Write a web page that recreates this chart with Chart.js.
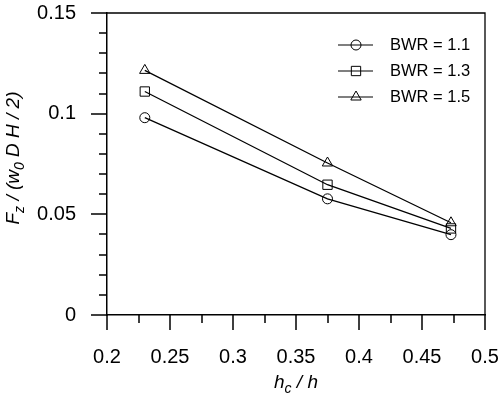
<!DOCTYPE html>
<html>
<head>
<meta charset="utf-8">
<script src="https://cdn.jsdelivr.net/npm/chart.js@4/dist/chart.umd.min.js"></script>
<style>
html,body{margin:0;padding:0;background:#fff;}
canvas{display:block;}
</style>
</head>
<body>
<canvas id="c" width="500" height="398"></canvas>
<script>
// ---- data ----
const xValues = [0.230, 0.375, 0.473];
const bwr11 = [0.098, 0.0577, 0.0399];
const bwr13 = [0.111, 0.0647, 0.0430];
const bwr15 = [0.1215, 0.0755, 0.0458];
const seriesLabels = ['BWR = 1.1', 'BWR = 1.3', 'BWR = 1.5'];
const seriesStyles = ['circle', 'rect', 'triangle'];
const xTickLabels = ['0.2', '0.25', '0.3', '0.35', '0.4', '0.45', '0.5'];
const yTickLabels = ['0', '0.05', '0.1', '0.15'];

const FONT = '"Liberation Sans", Arial, Helvetica, sans-serif';

function pts(ys) { return xValues.map((x, i) => ({x: x, y: ys[i]})); }
const radii = {circle: 5, rect: 6.6, triangle: 6};

const datasets = [bwr11, bwr13, bwr15].map((ys, i) => ({
  label: seriesLabels[i],
  data: pts(ys),
  showLine: true,
  borderColor: '#000',
  borderWidth: 1.3,
  backgroundColor: 'rgba(0,0,0,0)',
  pointStyle: seriesStyles[i],
  pointRadius: radii[seriesStyles[i]],
  pointBorderWidth: 1,
  pointBorderColor: '#000',
  pointBackgroundColor: 'rgba(0,0,0,0)',
  tension: 0
}));

function fmt(v) { return String(Number(v.toFixed(3))); }

function drawRich(ctx, parts, x, y, size, align) {
  const mainFont = 'italic ' + size + 'px ' + FONT;
  const subSize = Math.round(size * 0.72);
  const subFont = 'italic ' + subSize + 'px ' + FONT;
  let total = 0;
  const widths = parts.map(p => { ctx.font = p[1] ? subFont : mainFont; const w = ctx.measureText(p[0]).width; total += w; return w; });
  let cx = align === 'center' ? x - total / 2 : x;
  ctx.textAlign = 'left';
  ctx.textBaseline = 'alphabetic';
  parts.forEach((p, i) => {
    ctx.font = p[1] ? subFont : mainFont;
    ctx.fillText(p[0], cx, y + (p[1] ? size * 0.28 : 0));
    cx += widths[i];
  });
}

const decor = {
  id: 'decor',
  afterDraw(chart) {
    const ctx = chart.ctx;
    const a = chart.chartArea;
    const xs = chart.scales.x, ys = chart.scales.y;
    ctx.save();
    ctx.strokeStyle = '#000';
    ctx.fillStyle = '#000';
    ctx.lineWidth = 1.3;
    ctx.beginPath();
    ctx.moveTo(a.left, a.top); ctx.lineTo(a.right, a.top); ctx.lineTo(a.right, a.bottom);
    ctx.stroke();
    ctx.lineWidth = 1.5;
    ctx.beginPath();
    for (let i = 0; i <= 12; i++) {
      const v = 0.2 + i * 0.025;
      const px = Math.round(xs.getPixelForValue(v));
      const len = (i % 2 === 0) ? 15 : 8;
      ctx.moveTo(px, a.bottom); ctx.lineTo(px, a.bottom + len);
    }
    for (let i = 0; i <= 15; i++) {
      const v = i * 0.01;
      const py = Math.round(ys.getPixelForValue(v));
      const len = (i % 5 === 0) ? 16 : 8;
      ctx.moveTo(a.left, py); ctx.lineTo(a.left - len, py);
    }
    ctx.stroke();
    drawRich(ctx, [['h', 0], ['c', 1], [' / h', 0]], (a.left + a.right) / 2, 388, 19, 'center');
    ctx.save();
    ctx.translate(19, 158);
    ctx.rotate(-Math.PI / 2);
    drawRich(ctx, [['F', 0], ['z', 1], [' / (w', 0], ['0', 1], [' D H / 2)', 0]], 0, 0, 19, 'center');
    ctx.restore();
    const lx0 = 338, lx1 = 373, mx = 356, tx = 390;
    const rowY = [45, 71, 97];
    chart.data.datasets.forEach((ds, i) => {
      const y = rowY[i];
      ctx.lineWidth = 1.2;
      ctx.beginPath();
      ctx.moveTo(lx0, y); ctx.lineTo(lx1, y);
      ctx.stroke();
      ctx.lineWidth = 1;
      ctx.fillStyle = 'rgba(0,0,0,0)';
      Chart.helpers.drawPoint(ctx, {pointStyle: ds.pointStyle, radius: ds.pointRadius, rotation: 0, borderWidth: 1}, mx, y);
      ctx.fillStyle = '#000';
      ctx.font = '16.5px ' + FONT;
      ctx.textAlign = 'left';
      ctx.textBaseline = 'middle';
      ctx.fillText(ds.label, tx, y);
    });
    ctx.restore();
  }
};

function zeroPad(s) { s.paddingTop = 0; s.paddingBottom = 0; s.paddingLeft = 0; s.paddingRight = 0; }

new Chart(document.getElementById('c'), {
  type: 'scatter',
  data: { datasets: datasets },
  options: {
    responsive: false,
    animation: false,
    devicePixelRatio: 1,
    layout: { padding: { left: 0, top: 13, right: 15, bottom: 0 } },
    plugins: { legend: { display: false }, tooltip: { enabled: false } },
    scales: {
      x: {
        type: 'linear', position: 'bottom', min: 0.2, max: 0.5,
        afterFit(s) { s.height = 83; zeroPad(s); },
        afterBuildTicks(s) { s.ticks = xTickLabels.map(t => ({value: parseFloat(t)})); },
        ticks: { stepSize: 0.05, color: '#000', font: { size: 20, family: FONT }, padding: 30, maxRotation: 0,
          callback: v => fmt(v) },
        grid: { display: false, drawTicks: false, tickLength: 0 },
        border: { display: true, color: '#000', width: 1.5 }
      },
      y: {
        type: 'linear', position: 'left', min: 0, max: 0.15,
        afterFit(s) { s.width = 107; zeroPad(s); },
        afterBuildTicks(s) { s.ticks = yTickLabels.map(t => ({value: parseFloat(t)})); },
        ticks: { stepSize: 0.05, color: '#000', font: { size: 20, family: FONT }, padding: 31,
          callback: v => fmt(v) },
        grid: { display: false, drawTicks: false, tickLength: 0 },
        border: { display: true, color: '#000', width: 1.5 }
      }
    }
  },
  plugins: [decor]
});
</script>
</body>
</html>
